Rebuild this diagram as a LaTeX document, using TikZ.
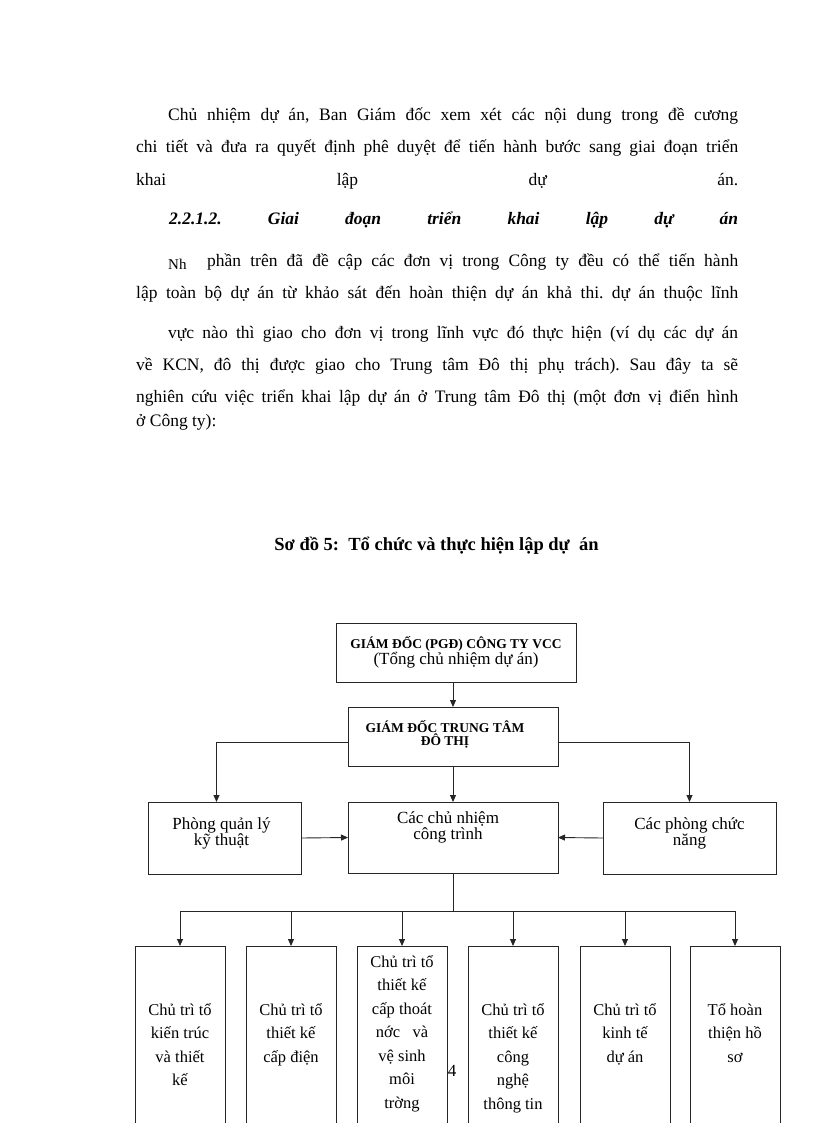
\documentclass[tikz,border=0pt]{standalone}
\usepackage{fontspec}
\setmainfont{Liberation Serif}
\usetikzlibrary{arrows.meta}
\tikzset{
  bodyline/.style={anchor=base west,inner sep=0pt,font=\fontsize{17.5}{20}\selectfont\frenchspacing},
  unit/.style={draw=black!85,line width=0.9pt,inner sep=0pt,outer sep=0pt,anchor=north west},
  unittext/.style={inner sep=0pt,align=center,font=\fontsize{17}{16}\selectfont},
  teamtext/.style={inner sep=0pt,align=center,anchor=north,font=\fontsize{16.5}{23.5}\selectfont},
  link/.style={draw=black!85,line width=0.9pt,-{Triangle[length=7pt,width=6pt]}},
  plain/.style={draw=black!85,line width=0.9pt},
}
\newcommand{\jline}[4]{\node[bodyline] (#1) at #2 {\makebox[#3][s]{#4}};}
\begin{document}
\begin{tikzpicture}[x=1pt,y=-1pt]
    \useasboundingbox (0,0) rectangle (816,1123);
    \clip (0,0) rectangle (816,1123);
    %% Text above the chart
    \jline{l1}{(168,121)}{570pt}{Chủ nhiệm dự án, Ban Giám đốc xem xét các nội dung trong đề cương}
    \jline{l2}{(136,153)}{602pt}{chi tiết và đưa ra quyết định phê duyệt để tiến hành bước sang giai đoạn triển}
    \jline{l3}{(136,186)}{602pt}{khai lập dự án.}
    \jline{l4}{(169,225)}{569pt}{\bfseries\itshape 2.2.1.2. Giai đoạn triển khai lập dự án}
    \node[bodyline,font=\fontsize{15}{18}\selectfont] (nh) at (168,269) {Nh};
    \jline{l5}{(207,266)}{531pt}{phần trên đã đề cập các đơn vị trong Công ty đều có thể tiến hành}
    \jline{l6}{(136,298)}{602pt}{lập toàn bộ dự án từ khảo sát đến hoàn thiện dự án khả thi. dự án thuộc lĩnh}
    \jline{l7}{(168,338)}{570pt}{vực nào thì giao cho đơn vị trong lĩnh vực đó thực hiện (ví dụ các dự án}
    \jline{l8}{(136,370)}{602pt}{về KCN, đô thị được giao cho Trung tâm Đô thị phụ trách). Sau đây ta sẽ}
    \jline{l9}{(136,402)}{602pt}{nghiên cứu việc triển khai lập dự án ở Trung tâm Đô thị (một đơn vị điển hình}
    \node[bodyline] (l10) at (136,426) {ở Công ty):};
    %% Title
    \node[anchor=base,inner sep=0pt,font=\fontsize{18.5}{20}\selectfont\bfseries] (title) at (436.5,550) {Sơ đồ 5:\ \ Tổ chức và thực hiện lập dự\ \ án};
    %% Units
    \node[unit,minimum width=240pt,minimum height=59pt] (gd) at (336,623) {};
    \node[unit,minimum width=210pt,minimum height=59pt] (ttdt) at (348,707) {};
    \node[unit,minimum width=153pt,minimum height=72pt] (pql) at (148,802) {};
    \node[unit,minimum width=210pt,minimum height=71pt] (cnct) at (348,802) {};
    \node[unit,minimum width=173pt,minimum height=72pt] (pcn) at (603,802) {};
    \node[unittext] (gdtext) at (gd.center) {{\fontsize{13.5}{13}\selectfont\bfseries GIÁM ĐỐC (PGĐ) CÔNG TY VCC}\\(Tổng chủ nhiệm dự án)};
    \node[unittext,font=\fontsize{13.5}{12.5}\selectfont\bfseries] (ttdttext) at ([xshift=-8,yshift=2]ttdt.center) {GIÁM ĐỐC TRUNG TÂM\\ĐÔ THỊ};
    \node[unittext] (pqltext) at ([xshift=-3,yshift=5]pql.center) {Phòng quản lý\\kỹ thuật};
    \node[unittext] (cncttext) at ([xshift=-5,yshift=10]cnct.center) {Các chủ nhiệm\\công trình};
    \node[unittext] (pcntext) at ([yshift=5]pcn.center) {Các phòng chức\\năng};
    %% Teams
    \foreach \name/\px in {kt/135,cd/246,ctn/357,cntt/468,ktda/580,hs/690}
      \node[unit,minimum width=90pt,minimum height=200pt] (\name) at (\px,946) {};
    \node[teamtext] (kttext) at ([yshift=-57]kt.north) {Chủ trì tổ\\kiến trúc\\và thiết\\kế};
    \node[teamtext] (cdtext) at ([yshift=-57]cd.north) {Chủ trì tổ\\thiết kế\\cấp điện};
    \node[teamtext] (ctntext) at ([yshift=-9]ctn.north) {Chủ trì tổ\\thiết kế\\cấp thoát\\nớc\ \ \ và\\vệ sinh\\môi\\trờng};
    \node[teamtext] (cntttext) at ([yshift=-57]cntt.north) {Chủ trì tổ\\thiết kế\\công\\nghệ\\thông tin};
    \node[teamtext] (ktdatext) at ([yshift=-57]ktda.north) {Chủ trì tổ\\kinh tế\\dự án};
    \node[teamtext] (hstext) at ([yshift=-57]hs.north) {Tổ hoàn\\thiện hồ\\sơ};
    %% Links
    \draw[link] (ttdt.north |- gd.south) -- (ttdt.north);
    \draw[link] ([yshift=-6]ttdt.west) -| ([xshift=-8]pql.north);
    \draw[link] ([yshift=-6]ttdt.east) -| (pcn.north);
    \draw[link] (ttdt.south) -- (cnct.north);
    \draw[link] (pql.east) -- (cnct.west);
    \draw[link] (pcn.west) -- (cnct.east);
    \coordinate (bus) at (453,911);
    \draw[plain] (cnct.south) -- (bus);
    \draw[plain] (kt.north |- bus) -- (hs.north |- bus);
    \foreach \name in {kt,cd,ctn,cntt,ktda,hs}
      \draw[link] (\name.north |- bus) -- (\name.north);
    %% Page number
    \node[anchor=base,inner sep=0pt,font=\fontsize{17}{20}\selectfont] (page) at (452,1076) {4};
\end{tikzpicture}
\end{document}
